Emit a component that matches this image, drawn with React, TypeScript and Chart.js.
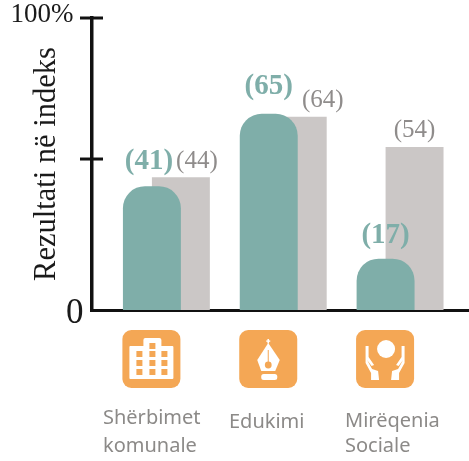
import React, { useEffect, useRef } from "react";
import { Chart, registerables } from "chart.js";

Chart.register(...registerables);

const categories = [["Shërbimet", "komunale"], ["Edukimi"], ["Mirëqenia", "Sociale"]];
const currentValues = [41, 65, 17];
const previousValues = [44, 64, 54];
const yTicks = [0, 50, 96.7];
const yTickLabels: Record<number, string> = { 0: "0", 96.7: "100%" };
const yTitle = "Rezultati në indeks";

const TEAL = "#7FAEA9";
const GREY = "#CBC7C6";
const ORANGE = "#F4A755";
const SERIF = "'Liberation Serif', serif";
const SANS = "'Noto Sans', sans-serif";

function roundRect(c: CanvasRenderingContext2D, x: number, y: number, w: number, h: number, r: number) {
  c.beginPath();
  c.roundRect(x, y, w, h, r);
  c.fill();
}

function drawBuilding(c: CanvasRenderingContext2D) {
  c.fillStyle = "#fff";
  roundRect(c, 7, 16, 44, 33, 1);
  roundRect(c, 21, 8, 18, 12, 2);
  c.fillStyle = ORANGE;
  for (const wx of [14, 27, 39]) for (const wy of [21, 30, 39]) c.fillRect(wx, wy, 6, 6);
  c.fillRect(27, 13, 6, 6);
}

function drawPen(c: CanvasRenderingContext2D) {
  c.fillStyle = "#fff";
  c.fillRect(28.2, 9, 1.6, 4.5);
  c.fillRect(27, 10.4, 4, 1.4);
  c.beginPath();
  c.moveTo(29, 13);
  c.lineTo(40.5, 30);
  c.lineTo(36, 41);
  c.lineTo(22, 41);
  c.lineTo(18, 30);
  c.closePath();
  c.fill();
  roundRect(c, 22, 44, 16, 6, 2.5);
  c.fillStyle = ORANGE;
  c.fillRect(28.5, 20, 1, 14);
  c.beginPath();
  c.arc(29, 35, 3.4, 0, Math.PI * 2);
  c.fill();
}

function drawHand(c: CanvasRenderingContext2D) {
  c.fillStyle = "#fff";
  c.beginPath();
  c.moveTo(9.5, 16);
  c.lineTo(12.5, 16);
  c.lineTo(12.5, 27);
  c.lineTo(18, 35);
  c.lineTo(15.5, 36);
  c.lineTo(11, 30);
  c.lineTo(16, 39);
  c.lineTo(22, 41);
  c.lineTo(23, 50);
  c.lineTo(15, 50);
  c.lineTo(15, 43);
  c.lineTo(9.5, 33);
  c.closePath();
  c.fill();
}

function drawHands(c: CanvasRenderingContext2D) {
  c.fillStyle = "#fff";
  c.beginPath();
  c.arc(30, 19, 9, 0, Math.PI * 2);
  c.fill();
  drawHand(c);
  c.save();
  c.translate(58, 0);
  c.scale(-1, 1);
  drawHand(c);
  c.restore();
}

const iconDrawers = [drawBuilding, drawPen, drawHands];
// nudges of text relative to the bar it belongs to
const currentNudge = [[-3, -25], [0, -27], [0, -23]];
const previousNudge = [[16, -16], [25, -16], [0, -17]];
const labelX = [[103, 103], [229], [345, 345]];
const labelY = [[418, 446], [422], [421, 446]];

const decor = {
  id: "decor",
  afterDraw(chart: any) {
    const { ctx: c, scales } = chart;
    const y = scales.y;
    const left = chart.chartArea.left;
    c.save();
    c.strokeStyle = "#111";
    c.lineWidth = 3;
    y.ticks.forEach((t: any) => {
      const py = y.getPixelForValue(t.value);
      if (t.value !== 0) {
        c.beginPath();
        c.moveTo(left - 11.5, py);
        c.lineTo(left + 11.5, py);
        c.stroke();
      }
      const text = yTickLabels[t.value];
      if (text) {
        c.fillStyle = "#1a1a1a";
        c.font = t.value === 0 ? `35px ${SERIF}` : `27px ${SERIF}`;
        c.textAlign = "right";
        c.textBaseline = "middle";
        c.fillText(text, t.value === 0 ? left - 8 : left - 18, py + (t.value === 0 ? 4 : -3));
      }
    });
    c.textAlign = "center";
    c.textBaseline = "middle";
    const cur = chart.getDatasetMeta(0).data;
    const prev = chart.getDatasetMeta(1).data;
    cur.forEach((b: any, i: number) => {
      c.fillStyle = TEAL;
      c.font = `bold 29px ${SERIF}`;
      c.fillText(`(${currentValues[i]})`, b.x + currentNudge[i][0], b.y + currentNudge[i][1]);
    });
    prev.forEach((b: any, i: number) => {
      c.fillStyle = "#8f8c8b";
      c.font = `25px ${SERIF}`;
      c.fillText(`(${previousValues[i]})`, b.x + previousNudge[i][0], b.y + previousNudge[i][1]);
    });
    cur.forEach((b: any, i: number) => {
      c.save();
      c.translate(b.x - 29.5, 330);
      c.fillStyle = ORANGE;
      roundRect(c, 0, 0, 58, 58, 9);
      iconDrawers[i](c);
      c.restore();
    });
    c.fillStyle = "#8c8a88";
    c.font = `20px ${SANS}`;
    c.textAlign = "left";
    categories.forEach((lines, i) => {
      lines.forEach((line, j) => c.fillText(line, labelX[i][j], labelY[i][j]));
    });
    c.restore();
  },
};

export default function App() {
  const ref = useRef<HTMLCanvasElement>(null);
  useEffect(() => {
    const chart = new Chart(ref.current!, {
      type: "bar",
      data: {
        datasets: [
          {
            label: "Current",
            data: currentValues.map((v, i) => ({ x: i, y: v })),
            backgroundColor: TEAL,
            borderRadius: { topLeft: 22, topRight: 22, bottomLeft: 0, bottomRight: 0 },
            borderSkipped: "bottom",
            barPercentage: 2,
            categoryPercentage: 0.496,
          },
          {
            label: "Previous",
            data: previousValues.map((v, i) => ({ x: i, y: v })),
            backgroundColor: GREY,
            barPercentage: 2,
            categoryPercentage: 0.496,
          },
        ],
      },
      options: {
        animation: false,
        responsive: false,
        layout: { padding: { top: 18, bottom: 151, left: 0, right: 0 } },
        plugins: { legend: { display: false }, tooltip: { enabled: false } },
        scales: {
          x: {
            type: "linear",
            offset: false,
            min: -0.641,
            max: 2.59,
            afterBuildTicks: (s: any) => {
              s.ticks = categories.map((_, value) => ({ value }));
            },
            afterFit: (s: any) => {
              s.height = 0;
            },
            ticks: { display: false },
            grid: { display: false, offset: false },
            border: { display: true, color: "#111", width: 3 },
          },
          y: {
            min: 0,
            max: 96.7,
            afterBuildTicks: (s: any) => {
              s.ticks = yTicks.map((value) => ({ value }));
            },
            afterFit: (s: any) => {
              s.width = 91.5;
            },
            ticks: { display: false },
            grid: { display: false },
            border: { display: true, color: "#111", width: 3.5 },
            title: {
              display: true,
              text: yTitle,
              color: "#1a1a1a",
              font: { family: "Liberation Serif", size: 30.5 },
              padding: { top: 29, bottom: 0 },
            },
          },
        },
      },
      plugins: [decor],
    } as any);
    return () => chart.destroy();
  }, []);
  return (
    <canvas
      ref={ref}
      width={469}
      height={461}
      style={{ position: "fixed", left: 0, top: 0, display: "block" }}
    />
  );
}
